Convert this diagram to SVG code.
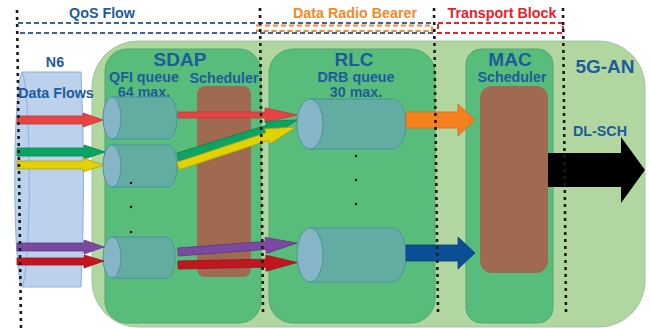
<svg xmlns="http://www.w3.org/2000/svg" width="650" height="328" viewBox="0 0 650 328">
  <defs>
    <style>
      .t { font-family: "Liberation Sans", Arial, sans-serif; font-weight: bold; fill: #1d5c9c; text-anchor: middle; }
      .s14 { font-size: 14.3px; }
      .s19 { font-size: 19px; }
      .outer { fill: #b1d69f; stroke: #9cc7a8; stroke-width: 1; }
      .layer { fill: #58bc7b; stroke: #4fa872; stroke-width: 1; }
      .sched { fill: #a06a50; }
      .cylBody { fill: #63aca2; stroke: #4b93a2; stroke-width: 1; }
      .cylEnd { fill: #86b6c6; stroke: #4b93a2; stroke-width: 1; }
      .dot { fill: #000; }
      .vdots { stroke: #1a1a1a; stroke-width: 2.6; stroke-dasharray: 3 4; fill: none; }
      .arr { stroke-width: 0.8; stroke-linejoin: miter; }
    </style>
  </defs>

  <!-- 5G-AN outer container -->
  <g id="an5g">
    <rect class="outer" x="92" y="41" width="553" height="286" rx="46"/>
    <text class="t s19" x="605" y="73">5G-AN</text>
  </g>

  <!-- N6 data flow cylinder -->
  <g id="n6">
    <path d="M22,72 L81,72 Q86,180 81,287 L22,287 A8,108 0 0 1 22,72 Z" fill="#bcd1eb" stroke="#8fb0da" stroke-width="1"/>
    <path d="M22,72 A8,108 0 0 1 22,287" fill="none" stroke="#8fb0da" stroke-width="1"/>
    <text class="t s14" x="55" y="67">N6</text>
    <text class="t s14" x="56" y="98">Data Flows</text>
  </g>

  <!-- SDAP layer -->
  <g id="sdap">
    <rect class="layer" x="105" y="49" width="156" height="274" rx="22"/>
    <rect class="sched" x="197" y="86" width="54" height="191" rx="8"/>
    <text class="t s19" x="180" y="66">SDAP</text>
    <text class="t s14" x="144" y="82">QFI queue</text>
    <text class="t s14" x="144" y="97">64 max.</text>
    <text class="t s14" x="224" y="83">Scheduler</text>
    <path class="cylBody" d="M112,97 L168,97 A9,21 0 0 1 168,139 L112,139 Z"/>
    <ellipse class="cylEnd" cx="112" cy="118" rx="9" ry="21"/>
    <path class="cylBody" d="M112,145 L168,145 A9,21 0 0 1 168,187 L112,187 Z"/>
    <ellipse class="cylEnd" cx="112" cy="166" rx="9" ry="21"/>
    <path class="cylBody" d="M112,237 L168,237 A9,21 0 0 1 168,278 L112,278 Z"/>
    <ellipse class="cylEnd" cx="112" cy="257.5" rx="9" ry="20.5"/>
    <circle class="dot" cx="131" cy="183" r="1.2"/>
    <circle class="dot" cx="131" cy="207" r="1.2"/>
    <circle class="dot" cx="131" cy="232" r="1.2"/>
  </g>

  <!-- RLC layer -->
  <g id="rlc">
    <rect class="layer" x="269" y="49" width="166" height="274" rx="24"/>
    <text class="t s19" x="354" y="66">RLC</text>
    <text class="t s14" x="356" y="82">DRB queue</text>
    <text class="t s14" x="356" y="97">30 max.</text>
    <path class="cylBody" d="M310,99 L393,99 A13,25 0 0 1 393,149 L310,149 Z"/>
    <ellipse class="cylEnd" cx="310" cy="124" rx="13" ry="25"/>
    <path class="cylBody" d="M310,228 L393,228 A13,27 0 0 1 393,282 L310,282 Z"/>
    <ellipse class="cylEnd" cx="310" cy="255" rx="13" ry="27"/>
    <circle class="dot" cx="356" cy="156" r="1.2"/>
    <circle class="dot" cx="356" cy="180" r="1.2"/>
    <circle class="dot" cx="356" cy="204" r="1.2"/>
  </g>

  <!-- MAC layer -->
  <g id="mac">
    <rect class="layer" x="466" y="49" width="87" height="274" rx="15"/>
    <rect class="sched" x="480" y="86" width="68" height="187" rx="12"/>
    <text class="t s19" x="510" y="66">MAC</text>
    <text class="t s14" x="512" y="82">Scheduler</text>
  </g>

  <!-- Connectors: flow arrows -->
  <g id="connectors">
    <!-- N6 to QFI queues -->
    <polygon class="arr" fill="#e84343" stroke="#b83a3a" points="17,116 83,116 83,113 103,120 83,127 83,124 17,124"/>
    <polygon class="arr" fill="#0ba463" stroke="#0b8050" points="17,148 84,148 84,145 105,152 84,159 84,156 17,156"/>
    <polygon class="arr" fill="#e2d200" stroke="#a8a030" points="17,161 83,161 83,158 104,165 83,172 83,169 17,169"/>
    <polygon class="arr" fill="#7a4aa2" stroke="#5e3a80" points="17,243 84,243 84,240 104,247 84,254 84,251 17,251"/>
    <polygon class="arr" fill="#c3151f" stroke="#901820" points="17,258 84,258 84,255 104,261 84,268 84,265 17,265"/>

    <!-- SDAP scheduler to DRB queues -->
    <polygon class="arr" fill="#e84343" stroke="#b83a3a" points="178,112 265,112 265,108 297,115 265,122 265,118 178,118"/>
    <g transform="translate(178,157) rotate(-17.3)">
      <polygon class="arr" fill="#0ba463" stroke="#0b8050" points="0,-4 94,-4 94,-8 124.6,0 94,8 94,4 0,4"/>
    </g>
    <g transform="translate(178,166) rotate(-18.3)">
      <polygon class="arr" fill="#e2d200" stroke="#a8a030" points="0,-4 94,-4 94,-8 124.3,0 94,8 94,4 0,4"/>
    </g>
    <g transform="translate(178,252) rotate(-4.3)">
      <polygon class="arr" fill="#7a4aa2" stroke="#5e3a80" points="0,-4 88,-4 88,-8 119.3,0 88,8 88,4 0,4"/>
    </g>
    <g transform="translate(178,265) rotate(-1.2)">
      <polygon class="arr" fill="#c3151f" stroke="#901820" points="0,-4 88,-4 88,-8 119,0 88,8 88,4 0,4"/>
    </g>

    <!-- DRB queues to MAC scheduler -->
    <polygon class="arr" fill="#f5821f" stroke="#d06a18" points="406,112 458,112 458,104 475,120 458,136 458,128 406,128"/>
    <polygon class="arr" fill="#0a4f96" stroke="#0a3f78" points="406,245 458,245 458,237 475,253 458,269 458,261 406,261"/>

    <!-- DL-SCH transport channel -->
    <polygon fill="#000" points="548,153 621,153 621,137 645,170 621,203 621,187 548,187"/>
    <text class="t s14" x="600" y="136">DL-SCH</text>
  </g>

  <!-- Protocol scope brackets -->
  <g id="scopes">
    <line x1="18" y1="23" x2="433" y2="23" stroke="#3a62a8" stroke-width="2" stroke-dasharray="5 3"/>
    <line x1="20" y1="33" x2="433" y2="33" stroke="#3a62a8" stroke-width="2" stroke-dasharray="5 3"/>
    <rect x="257" y="25.5" width="175" height="5.5" fill="none" stroke="#f5892c" stroke-width="2" stroke-dasharray="5 3"/>
    <rect x="438" y="23" width="125" height="10" fill="none" stroke="#e8202a" stroke-width="2" stroke-dasharray="5 3"/>
    <text class="t s14" x="102" y="18">QoS Flow</text>
    <text class="t s14" x="355" y="18" style="fill:#f5892c">Data Radio Bearer</text>
    <text class="t s14" x="502" y="18" style="fill:#e8202a">Transport Block</text>
  </g>

  <!-- Layer boundary markers -->
  <g id="boundaries">
    <line class="vdots" x1="17" y1="10" x2="21" y2="328"/>
    <line class="vdots" x1="260" y1="8" x2="263" y2="312"/>
    <line class="vdots" x1="434" y1="8" x2="438" y2="312"/>
    <line class="vdots" x1="563" y1="8" x2="566" y2="312"/>
  </g>
</svg>
